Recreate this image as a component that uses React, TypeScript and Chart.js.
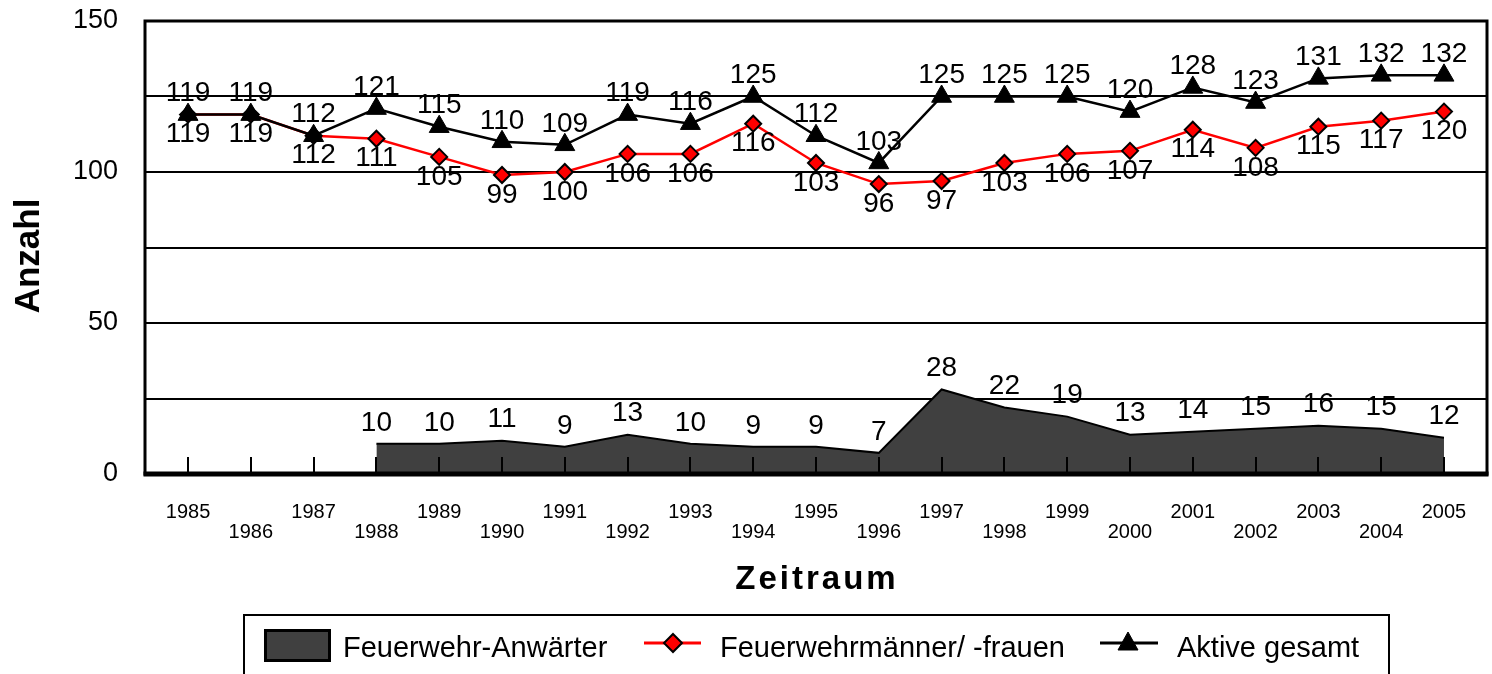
import React, { useEffect, useRef } from 'react';
import { Chart, registerables } from 'chart.js';

Chart.register(...registerables);

const years = ['1985', '1986', '1987', '1988', '1989', '1990', '1991', '1992', '1993', '1994', '1995', '1996', '1997', '1998', '1999', '2000', '2001', '2002', '2003', '2004', '2005'];
const anwaerter: (number | null)[] = [null, null, null, 10, 10, 11, 9, 13, 10, 9, 9, 7, 28, 22, 19, 13, 14, 15, 16, 15, 12];
const maennerFrauen = [119, 119, 112, 111, 105, 99, 100, 106, 106, 116, 103, 96, 97, 103, 106, 107, 114, 108, 115, 117, 120];
const aktive = [119, 119, 112, 121, 115, 110, 109, 119, 116, 125, 112, 103, 125, 125, 125, 120, 128, 123, 131, 132, 132];
const yLabelStep = 50;
const yGridStep = 25;
const yMax = 150;
const yTitle = 'Anzahl';
const xTitle = 'Zeitraum';
const seriesNames = ['Feuerwehr-Anwärter', 'Feuerwehrmänner/ -frauen', 'Aktive gesamt'];

const FONT = '"Liberation Sans", Arial, Helvetica, sans-serif';
const AREA_COLOR = '#404040';
const RED = '#ff0000';

// label offsets per dataset (above: negative, below: positive)
const labelOffsets = [-21, 20, -21];

const decorPlugin = {
  id: 'decor',
  afterDatasetsDraw(chart: any) {
    const { ctx, chartArea: a, scales } = chart;
    const xs = scales.x;
    ctx.save();
    ctx.strokeStyle = '#000';
    // inner tick marks
    ctx.lineWidth = 2;
    years.forEach((_, i) => {
      const px = Math.round(xs.getPixelForValue(i));
      ctx.beginPath();
      ctx.moveTo(px, a.bottom);
      ctx.lineTo(px, a.bottom - 17);
      ctx.stroke();
    });
    // frame
    ctx.lineWidth = 3;
    ctx.strokeRect(a.left, a.top, a.right - a.left, a.bottom - a.top);
    ctx.lineWidth = 5;
    ctx.beginPath();
    ctx.moveTo(a.left - 1.5, a.bottom);
    ctx.lineTo(a.right + 1.5, a.bottom);
    ctx.stroke();

    // data labels
    ctx.fillStyle = '#000';
    ctx.font = `28px ${FONT}`;
    ctx.textAlign = 'center';
    ctx.textBaseline = 'middle';
    chart.data.datasets.forEach((ds: any, di: number) => {
      const meta = chart.getDatasetMeta(di);
      meta.data.forEach((el: any, i: number) => {
        const v = ds.data[i]?.y;
        if (v === null || v === undefined) return;
        ctx.fillText(String(v), el.x, el.y + labelOffsets[di]);
      });
    });

    // axis titles
    ctx.font = `bold 35px ${FONT}`;
    ctx.save();
    ctx.translate(29, 256);
    ctx.rotate(-Math.PI / 2);
    ctx.fillText(yTitle, 0, 0);
    ctx.restore();
    ctx.font = `bold 33px ${FONT}`;
    (ctx as any).letterSpacing = '3px';
    ctx.fillText(xTitle, (a.left + a.right) / 2 + 1, 580);
    (ctx as any).letterSpacing = '0px';
    ctx.restore();
  },
};

const toPoints = (arr: (number | null)[]) => arr.map((v, i) => ({ x: i, y: v }));

export default function App() {
  const ref = useRef<HTMLCanvasElement | null>(null);

  useEffect(() => {
    if (!ref.current) return;
    const chart = new Chart(ref.current, {
      type: 'line',
      data: {
        datasets: [
          {
            label: seriesNames[0],
            data: toPoints(anwaerter),
            fill: 'origin',
            backgroundColor: AREA_COLOR,
            borderColor: '#000',
            borderWidth: 2,
            pointRadius: 0,
            tension: 0,
            spanGaps: false,
            order: 2,
          },
          {
            label: seriesNames[1],
            data: toPoints(maennerFrauen),
            fill: false,
            borderColor: RED,
            borderWidth: 2.5,
            pointStyle: 'rectRot',
            pointRadius: 8,
            pointBackgroundColor: RED,
            pointBorderColor: '#000',
            pointBorderWidth: 2,
            tension: 0,
            order: 1,
          },
          {
            label: seriesNames[2],
            data: toPoints(aktive),
            fill: false,
            borderColor: '#000',
            borderWidth: 2.5,
            pointStyle: 'triangle',
            pointRadius: 11.5,
            pointBackgroundColor: '#000',
            pointBorderColor: '#000',
            pointBorderWidth: 1,
            tension: 0,
            order: 0,
          },
        ] as any,
      },
      options: {
        animation: false,
        responsive: false,
        events: [],
        layout: { autoPadding: false, padding: { top: 21, right: 5, left: 0, bottom: 0 } },
        plugins: {
          legend: { display: false },
          tooltip: { enabled: false },
        },
        scales: {
          x: {
            type: 'linear',
            min: -0.685,
            max: years.length - 1 + 0.685,
            afterBuildTicks: (scale: any) => {
              scale.ticks = years.map((_, i) => ({ value: i }));
            },
            afterFit: (scale: any) => {
              scale.height = 200;
              scale.paddingLeft = 0;
              scale.paddingRight = 0;
            },
            grid: { drawOnChartArea: false, drawTicks: true, tickLength: 28, tickColor: 'rgba(0,0,0,0)' },
            border: { display: false },
            ticks: {
              autoSkip: false,
              maxRotation: 0,
              padding: 0,
              color: '#000',
              font: { family: FONT, size: 20, lineHeight: 1.0 },
              callback: (value: any) => {
                const i = Math.round(Number(value));
                const y = years[i];
                if (y === undefined) return '';
                return i % 2 === 0 ? [y] : ['', y];
              },
            },
          },
          y: {
            type: 'linear',
            min: 0,
            max: yMax,
            afterFit: (scale: any) => {
              scale.width = 145;
              scale.paddingTop = 0;
              scale.paddingBottom = 0;
            },
            grid: { color: '#000', lineWidth: 2, drawTicks: true, tickLength: 27, tickColor: 'rgba(0,0,0,0)' },
            border: { display: false },
            ticks: {
              stepSize: yGridStep,
              padding: 0,
              color: '#000',
              font: { family: FONT, size: 27 },
              callback: (value: any) => (Number(value) % yLabelStep === 0 ? String(value) : ''),
            },
          },
        },
      } as any,
      plugins: [decorPlugin],
    });
    return () => chart.destroy();
  }, []);

  const textStyle: React.CSSProperties = {
    position: 'absolute',
    top: 630,
    height: 34,
    lineHeight: '34px',
    fontSize: 29,
    fontFamily: FONT,
    color: '#000',
    whiteSpace: 'nowrap',
  };

  return (
    <div style={{ position: 'fixed', left: 0, top: 0, width: 1492, height: 674, overflow: 'hidden', background: '#fff' }}>
      <canvas ref={ref} width={1492} height={674} style={{ display: 'block', width: 1492, height: 674 }} />
      <div
        style={{
          position: 'absolute',
          left: 243,
          top: 614,
          width: 1390 - 243,
          height: 90,
          border: '2px solid #000',
          boxSizing: 'border-box',
        }}
      />
      <div
        style={{
          position: 'absolute',
          left: 264,
          top: 629,
          width: 67,
          height: 33,
          background: AREA_COLOR,
          border: '3px solid #000',
          boxSizing: 'border-box',
        }}
      />
      <div style={{ ...textStyle, left: 343 }}>{seriesNames[0]}</div>
      <svg style={{ position: 'absolute', left: 640, top: 626 }} width={66} height={34}>
        <line x1={4} y1={17} x2={61} y2={17} stroke={RED} strokeWidth={3} />
        <polygon points="33,8 42,17 33,26 24,17" fill={RED} stroke="#000" strokeWidth={2} />
      </svg>
      <div style={{ ...textStyle, left: 720 }}>{seriesNames[1]}</div>
      <svg style={{ position: 'absolute', left: 1098, top: 626 }} width={64} height={34}>
        <line x1={2} y1={17} x2={60} y2={17} stroke="#000" strokeWidth={3} />
        <polygon points="30,6 40,24 20,24" fill="#000" stroke="#000" strokeWidth={1} />
      </svg>
      <div style={{ ...textStyle, left: 1177 }}>{seriesNames[2]}</div>
    </div>
  );
}
